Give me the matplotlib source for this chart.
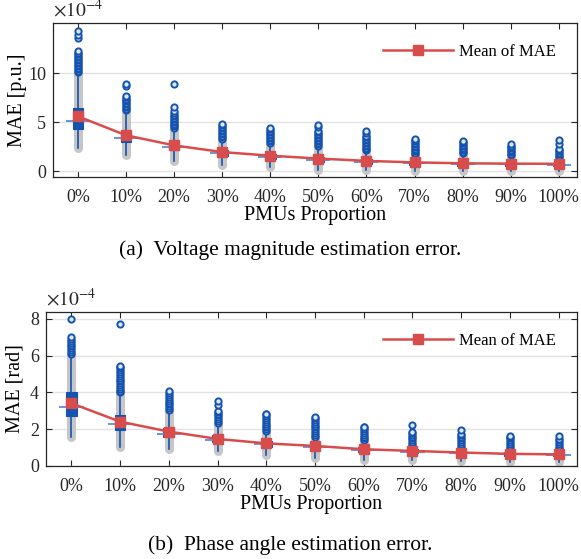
import matplotlib
matplotlib.use("Agg")
import matplotlib.pyplot as plt
import numpy as np

plt.rcParams.update({
    "font.family": "Liberation Serif",
    "mathtext.fontset": "stix",
    "axes.edgecolor": "#262626",
    "axes.linewidth": 0.9,
})

categories = ["0%", "10%", "20%", "30%", "40%", "50%", "60%", "70%", "80%", "90%", "100%"]

# (a) voltage magnitude MAE, units of 1e-4 p.u.
vm_mean = [5.58, 3.65, 2.62, 1.94, 1.57, 1.28, 1.04, 0.89, 0.79, 0.76, 0.74]
vm_med = [5.1, 3.4, 2.45, 1.85, 1.45, 1.15, 0.95, 0.8, 0.72, 0.68, 0.66]
vm_q1 = [4.3, 3.0, 2.1, 1.55, 1.2, 0.95, 0.75, 0.62, 0.55, 0.52, 0.5]
vm_q3 = [6.4, 4.1, 2.95, 2.2, 1.75, 1.45, 1.2, 1.0, 0.9, 0.85, 0.82]
vm_lo = [2.4, 1.6, 1.0, 0.6, 0.4, 0.15, 0.1, 0.05, 0.05, 0.05, 0.05]
vm_hi = [10.0, 6.2, 4.4, 3.3, 2.9, 2.5, 2.1, 1.7, 1.8, 1.6, 1.4]
vm_out = [
    [10.1, 10.25, 10.4, 10.55, 10.7, 10.85, 11.0, 11.15, 11.3, 11.45, 11.6,
     11.75, 11.9, 12.05, 12.2, 13.6, 13.9, 14.3],
    [6.2, 6.35, 6.5, 6.65, 6.8, 6.95, 7.1, 7.25, 7.4, 7.55, 7.7, 8.7, 8.9],
    [4.4, 4.55, 4.7, 4.85, 5.0, 5.15, 5.3, 5.45, 5.6, 5.75, 5.9, 6.1, 6.5, 8.85],
    [3.3, 3.45, 3.6, 3.75, 3.9, 4.05, 4.2, 4.35, 4.5, 4.65, 4.8],
    [2.9, 3.05, 3.2, 3.35, 3.5, 3.65, 3.8, 3.95, 4.1, 4.25, 4.4],
    [2.6, 2.75, 2.9, 3.05, 3.2, 3.35, 3.5, 3.65, 3.8, 3.95, 4.1, 4.45, 4.7],
    [2.1, 2.25, 2.4, 2.55, 2.7, 2.85, 3.0, 3.15, 3.3, 3.45, 3.6, 3.85, 4.05],
    [1.7, 1.85, 2.0, 2.15, 2.3, 2.45, 2.6, 2.75, 2.9, 3.05, 3.2, 3.3],
    [1.8, 1.95, 2.1, 2.25, 2.4, 2.55, 2.7, 2.85, 3.0, 3.1],
    [1.6, 1.75, 1.9, 2.05, 2.2, 2.35, 2.5, 2.6, 2.75],
    [1.4, 1.55, 1.7, 1.85, 2.0, 2.15, 2.3, 2.75, 3.15],
]

# (b) phase angle MAE, units of 1e-4 rad
pa_mean = [3.41, 2.41, 1.87, 1.47, 1.23, 1.09, 0.91, 0.82, 0.73, 0.66, 0.63]
pa_med = [3.22, 2.27, 1.75, 1.42, 1.18, 1.02, 0.87, 0.78, 0.7, 0.64, 0.61]
pa_q1 = [2.72, 1.96, 1.58, 1.28, 1.05, 0.9, 0.76, 0.68, 0.6, 0.55, 0.52]
pa_q3 = [4.04, 2.77, 2.08, 1.66, 1.38, 1.2, 1.02, 0.92, 0.82, 0.76, 0.72]
pa_lo = [1.6, 1.05, 0.9, 0.8, 0.6, 0.45, 0.35, 0.3, 0.25, 0.22, 0.2]
pa_hi = [6.1, 4.0, 3.05, 2.35, 1.9, 1.6, 1.4, 1.1, 1.0, 1.0, 0.9]
pa_out = [
    [6.1, 6.2, 6.3, 6.4, 6.5, 6.6, 6.7, 6.8, 6.9, 7.0, 8.0],
    [4.0, 4.1, 4.2, 4.3, 4.4, 4.5, 4.6, 4.7, 4.8, 4.9, 5.0, 5.1, 5.2, 5.3,
     5.4, 5.45, 7.7],
    [3.05, 3.15, 3.25, 3.35, 3.45, 3.55, 3.65, 3.75, 3.85, 3.95, 4.05],
    [2.35, 2.45, 2.55, 2.65, 2.75, 2.85, 2.95, 3.0, 3.3, 3.55],
    [1.9, 2.0, 2.1, 2.2, 2.3, 2.4, 2.5, 2.6, 2.7, 2.8, 2.85],
    [1.6, 1.7, 1.8, 1.9, 2.0, 2.1, 2.2, 2.3, 2.4, 2.5, 2.6, 2.68],
    [1.4, 1.5, 1.6, 1.7, 1.8, 1.9, 2.0, 2.1, 2.14],
    [1.1, 1.2, 1.3, 1.4, 1.5, 1.6, 1.7, 1.8, 1.85, 2.23],
    [1.0, 1.1, 1.2, 1.3, 1.4, 1.5, 1.6, 1.7, 1.75, 1.96],
    [1.0, 1.1, 1.2, 1.3, 1.4, 1.5, 1.6, 1.65],
    [0.9, 1.0, 1.1, 1.2, 1.3, 1.4, 1.45, 1.63],
]

BLUE = "#1553b0"
LIGHTBLUE = "#5a8fda"
GRAY = "#c6c6c6"
RED = "#d94c4c"


def draw_panel(ax, mean, med, q1, q3, lo, hi, out, ylabel, ylim, yticks, ylab_x):
    pos = np.arange(1, len(categories) + 1)
    ax.vlines(pos, lo, hi, colors=GRAY, linewidth=6.5, capstyle="round", zorder=1)
    stats = [dict(med=m, q1=a, q3=b, whislo=l, whishi=h, fliers=f)
             for m, a, b, l, h, f in zip(med, q1, q3, lo, hi, out)]
    ax.bxp(stats, positions=pos, widths=0.22, patch_artist=True, showcaps=False,
           boxprops=dict(facecolor=BLUE, edgecolor=BLUE, linewidth=0.8),
           whiskerprops=dict(color=BLUE, linewidth=1.2),
           medianprops=dict(color=BLUE, linewidth=0),
           flierprops=dict(marker="o", markersize=4.5, markerfacecolor="#dde6f5",
                           markeredgecolor=BLUE, markeredgewidth=1.4),
           zorder=2)
    ax.hlines(med, pos - 0.25, pos + 0.25, colors=LIGHTBLUE, linewidth=1.3, zorder=3)
    ax.plot(pos, mean, color=RED, linewidth=1.8, marker="s", markersize=7,
            label="Mean of MAE", zorder=4)

    ax.set_xticks(pos)
    ax.set_xticklabels(categories)
    ax.set_xlim(0.48, 11.38)
    ax.set_ylim(*ylim)
    ax.set_yticks(yticks)
    ax.yaxis.grid(True, color="#e2e2e2", linewidth=1.0)
    ax.set_axisbelow(True)
    ax.tick_params(direction="in", top=True, right=True, length=4,
                   labelsize=13, colors="#262626")
    ax.tick_params(axis="x", pad=9)
    ax.tick_params(axis="y", pad=5)
    ax.set_ylabel(ylabel, fontsize=14.5)
    ax.yaxis.set_label_coords(ylab_x, 0.5)
    ax.set_xlabel("PMUs Proportion", fontsize=14.5, labelpad=0)
    ax.text(0.0, 1.015, r"$\times10^{-4}$", transform=ax.transAxes,
            fontsize=14, ha="left", va="bottom", color="#262626")
    ax.legend(loc="upper right", frameon=False, fontsize=12, handlelength=4.2,
              handletextpad=0.4, borderaxespad=0.85)


fig = plt.figure(figsize=(5.81, 5.59), dpi=100)
ax1 = fig.add_axes([0.0912, 0.6834, 0.902, 0.2755])
ax2 = fig.add_axes([0.0792, 0.1664, 0.914, 0.2755])

draw_panel(ax1, vm_mean, vm_med, vm_q1, vm_q3, vm_lo, vm_hi, vm_out,
           "MAE [p.u.]", (-0.6, 15.1), [0, 5, 10], -0.05)
draw_panel(ax2, pa_mean, pa_med, pa_q1, pa_q3, pa_lo, pa_hi, pa_out,
           "MAE [rad]", (0, 8.37), [0, 2, 4, 6, 8], -0.041)

fig.text(0.5, 1 - 250 / 559, "(a)  Voltage magnitude estimation error.",
         ha="center", va="center", fontsize=15.5)
fig.text(0.5, 1 - 545 / 559, "(b)  Phase angle estimation error.",
         ha="center", va="center", fontsize=15.5)

fig.savefig("out.png", dpi=100)
